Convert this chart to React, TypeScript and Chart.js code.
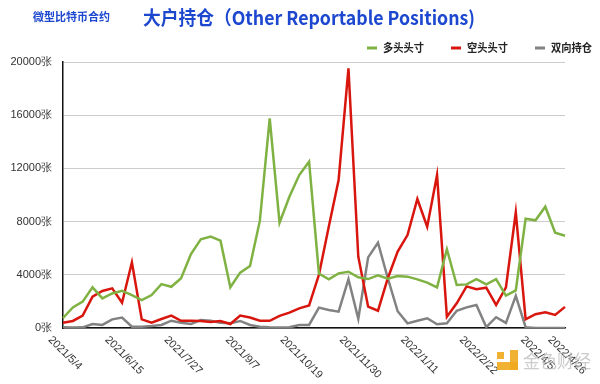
import React, { useEffect, useRef } from 'react';
import { Chart, registerables } from 'chart.js';

Chart.register(...registerables);

const dates = [
  '2021/5/4', '2021/5/11', '2021/5/18', '2021/5/25', '2021/6/1', '2021/6/8', '2021/6/15', '2021/6/22', '2021/6/29',
  '2021/7/6', '2021/7/13', '2021/7/20', '2021/7/27', '2021/8/3', '2021/8/10', '2021/8/17', '2021/8/24', '2021/8/31',
  '2021/9/7', '2021/9/14', '2021/9/21', '2021/9/28', '2021/10/5', '2021/10/12', '2021/10/19', '2021/10/26',
  '2021/11/2', '2021/11/9', '2021/11/16', '2021/11/23', '2021/11/30', '2021/12/7', '2021/12/14', '2021/12/21',
  '2021/12/28', '2022/1/4', '2022/1/11', '2022/1/18', '2022/1/25', '2022/2/1', '2022/2/8', '2022/2/15', '2022/2/22',
  '2022/3/1', '2022/3/8', '2022/3/15', '2022/3/22', '2022/3/29', '2022/4/5', '2022/4/12', '2022/4/19', '2022/4/26',
];

// indices of the categories whose date is printed under the axis
const labelledIndices = [0, 6, 12, 18, 24, 30, 36, 42, 48, 51];

const longPositions = [
  750, 1550, 1980, 3060, 2230, 2600, 2800, 2480, 2100, 2480,
  3300, 3100, 3740, 5560, 6670, 6870, 6570, 3060, 4160, 4660,
  8070, 15770, 7920, 9870, 11500, 12500, 4100, 3660, 4110, 4230,
  3810, 3680, 3960, 3710, 3910, 3860, 3660, 3410, 3050, 5920,
  3230, 3280, 3680, 3280, 3680, 2430, 2830, 8220, 8100, 9120,
  7170, 6940,
];

const shortPositions = [
  400, 530, 930, 2360, 2780, 2980, 1900, 4940, 650, 400,
  680, 930, 540, 550, 520, 460, 520, 300, 930, 790,
  550, 540, 910, 1150, 1480, 1700, 4000, 7620, 11130, 19520,
  5360, 1600, 1300, 3740, 5740, 6990, 9700, 7620, 11500, 850,
  1860, 3130, 2910, 3030, 1730, 3050, 8700, 650, 1040, 1180,
  980, 1590,
];

const spreadPositions = [
  50, 30, 50, 300, 230, 650, 780, 100, 100, 150,
  230, 550, 400, 300, 600, 550, 400, 350, 530, 230,
  100, 50, 30, 50, 230, 230, 1530, 1350, 1230, 3670,
  700, 5310, 6410, 3740, 1260, 350, 550, 730, 280, 350,
  1300, 1550, 1730, 70, 810, 380, 2420, 60, 0, 0,
  0, 0,
];

const seriesNames = ['多头头寸', '空头头寸', '双向持仓'];
const seriesColors = ['#7fb243', '#d8160e', '#828282'];
const yTicks = [0, 4000, 8000, 12000, 16000, 20000];
const unit = '张';
const subtitleText = '微型比特币合约';
const titleText = '大户持仓（Other Reportable Positions)';
const watermarkText = '金色财经';

const decorPlugin = {
  id: 'decor',
  afterDraw(chart: any) {
    const ctx = chart.ctx as CanvasRenderingContext2D;
    const area = chart.chartArea;
    const xs = chart.scales.x;

    // x-axis labels rotated 45° clockwise, centred on their tick
    ctx.save();
    ctx.fillStyle = '#333';
    ctx.font = '11px "Liberation Sans", Arial, sans-serif';
    ctx.textBaseline = 'middle';
    ctx.textAlign = 'left';
    const c = Math.SQRT1_2;
    labelledIndices.forEach((idx) => {
      const t = dates[idx];
      const px = xs.getPixelForValue(idx);
      const w = ctx.measureText(t).width;
      ctx.save();
      ctx.translate(px - (w * c) / 2 + 2, area.bottom + 10);
      ctx.rotate(Math.PI / 4);
      ctx.fillText(t, 0, 0);
      ctx.restore();
    });
    ctx.restore();

    // subtitle + title
    ctx.save();
    ctx.fillStyle = '#1c47cf';
    ctx.textBaseline = 'middle';
    ctx.textAlign = 'left';
    ctx.font = 'bold 11px "Noto Sans CJK SC", sans-serif';
    ctx.fillText(subtitleText, 33, 17, 78);
    ctx.font = 'bold 19px "Noto Sans CJK SC", sans-serif';
    ctx.fillText(titleText, 143, 18, 332);
    ctx.restore();

    // legend (from datasets)
    ctx.save();
    ctx.font = 'bold 11px "Noto Sans CJK SC", sans-serif';
    ctx.textBaseline = 'middle';
    const legendStarts = [367, 451, 535];
    chart.data.datasets.forEach((ds: any, i: number) => {
      const x0 = legendStarts[i];
      const y0 = 48;
      ctx.strokeStyle = ds.borderColor;
      ctx.lineWidth = 3;
      ctx.beginPath();
      ctx.moveTo(x0, y0);
      ctx.lineTo(x0 + 10, y0);
      ctx.stroke();
      ctx.fillStyle = '#222';
      ctx.fillText(ds.label, x0 + 16, y0, 41);
    });
    ctx.restore();

    // watermark
    ctx.save();
    ctx.fillStyle = 'rgba(240,170,30,0.9)';
    ctx.fillRect(497, 352, 7, 7);
    ctx.fillRect(510, 350, 8, 20);
    ctx.fillRect(497, 362, 21, 8);
    ctx.font = '18px "Noto Sans CJK SC", sans-serif';
    ctx.fillStyle = 'rgba(185,185,185,0.75)';
    ctx.textBaseline = 'middle';
    ctx.fillText(watermarkText, 523, 361, 68);
    ctx.restore();
  },
};

export default function App() {
  const ref = useRef<HTMLCanvasElement | null>(null);

  useEffect(() => {
    if (!ref.current) return;
    const chart = new Chart(ref.current, {
      type: 'line',
      data: {
        labels: dates,
        datasets: [longPositions, shortPositions, spreadPositions].map((d, i) => ({
          label: seriesNames[i],
          data: d,
          borderColor: seriesColors[i],
          backgroundColor: seriesColors[i],
          borderWidth: 2.5,
          pointRadius: 0,
          tension: 0,
          fill: false,
        })),
      },
      options: {
        animation: false,
        responsive: false,
        maintainAspectRatio: false,
        layout: { padding: { top: 62, left: 0, right: 35, bottom: 48 } },
        plugins: {
          legend: { display: false },
          title: { display: false },
          tooltip: { enabled: false },
        },
        scales: {
          x: {
            type: 'category',
            offset: false,
            grid: { display: false },
            ticks: { display: false },
            border: { display: true, color: '#111', width: 1.5 },
          },
          y: {
            min: 0,
            max: 20000,
            afterFit: (scale: any) => {
              scale.width = 63;
            },
            afterBuildTicks: (scale: any) => {
              scale.ticks = yTicks.map((v) => ({ value: v }));
            },
            ticks: {
              padding: 11,
              color: '#333',
              font: { size: 11, family: '"Liberation Sans", Arial, sans-serif' },
              callback: (v: any) => `${v}${unit}`,
            },
            grid: { color: '#cccccc', lineWidth: 1, drawTicks: false },
            border: { display: true, color: '#111', width: 1.5 },
          },
        },
      },
      plugins: [decorPlugin],
    });
    return () => chart.destroy();
  }, []);

  return (
    <div style={{ position: 'fixed', left: 0, top: 0, width: 600, height: 384, background: '#fff' }}>
      <canvas ref={ref} width={600} height={384} style={{ width: 600, height: 384, display: 'block' }} />
    </div>
  );
}
